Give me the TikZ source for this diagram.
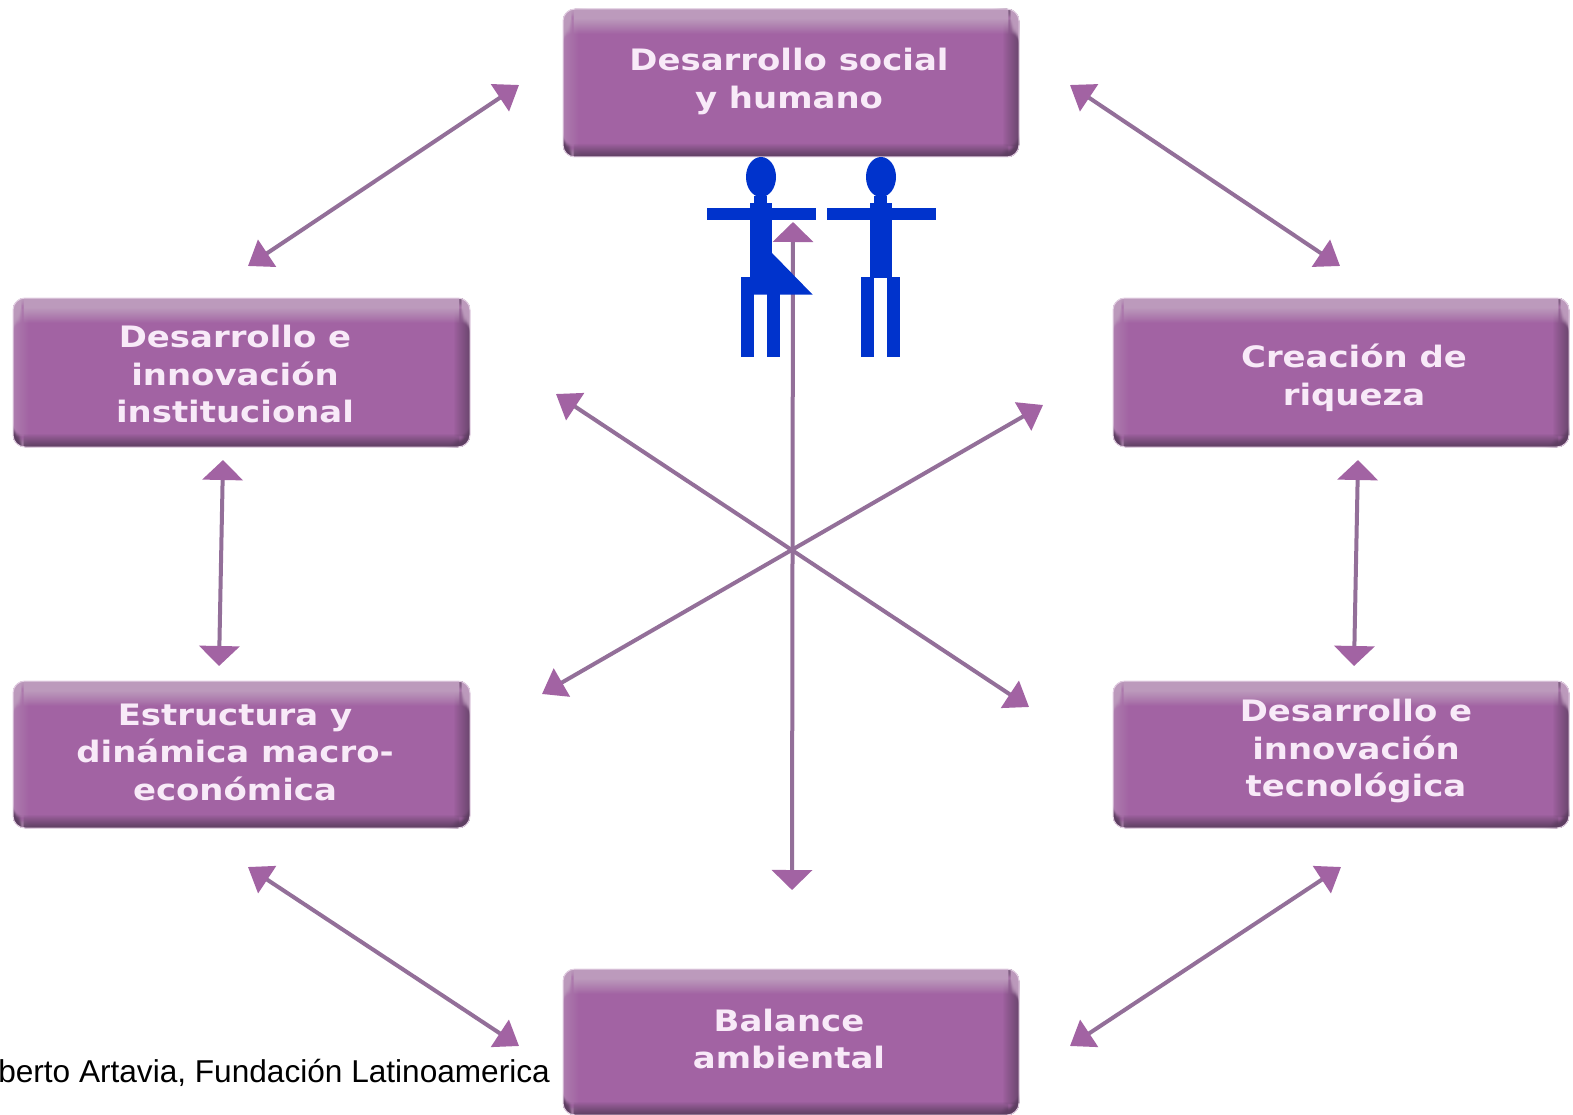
\documentclass[tikz,border=0pt]{standalone}
\usepackage{fontspec}
\setmainfont{Liberation Sans}
\newfontfamily\boxfont[FakeStretch=1.15]{DejaVu Sans Bold}
\usetikzlibrary{arrows.meta,positioning}
\definecolor{boxbase}{HTML}{A263A3}
\definecolor{boxlight}{HTML}{BC9ABC}
\definecolor{boxdark}{HTML}{5E3F62}
\definecolor{boxtext}{HTML}{F8EAF8}
\definecolor{arrowcol}{HTML}{936F99}
\definecolor{tipcol}{HTML}{A263A3}
\definecolor{personblue}{HTML}{0033CC}
\newcommand{\boxstrips}{%
  \foreach \i in {0,...,15} {
    \pgfmathsetmacro{\op}{0.45*(1-\i/16)}
    \fill[boxlight,opacity=\op] ([xshift=\i pt]path picture bounding box.north west) rectangle ([xshift=\i pt+1pt]path picture bounding box.south west);
  }
  \foreach \i in {0,...,15} {
    \pgfmathsetmacro{\op}{0.75*(1-\i/16)}
    \fill[boxdark,opacity=\op] ([xshift=-\i pt]path picture bounding box.north east) rectangle ([xshift=-\i pt-1pt]path picture bounding box.south east);
  }
  \foreach \i in {0,...,24} {
    \pgfmathsetmacro{\op}{min(1,1.6*(1-\i/25))}
    \fill[boxlight,opacity=\op] ([yshift=-\i pt]path picture bounding box.north west) rectangle ([yshift=-\i pt-1pt]path picture bounding box.north east);
  }
  \foreach \i in {0,...,12} {
    \pgfmathsetmacro{\op}{0.95*(1-\i/13)}
    \fill[boxdark,opacity=\op] ([yshift=\i pt]path picture bounding box.south west) rectangle ([yshift=\i pt+1pt]path picture bounding box.south east);
  }
}
\tikzset{
  x=1pt,y=-1pt,
  purplebox/.style={rectangle,rounded corners=12pt,fill=boxbase,draw=boxbase!30,line width=1pt,inner sep=0pt,
    path picture={\boxstrips}},
  boxlabel/.style={text=boxtext,align=center,font=\boxfont\fontsize{29.5}{37.5}\selectfont,inner sep=0pt},
  linkarrow/.style={draw=arrowcol,line width=4pt,{Triangle[length=20pt,width=40pt,fill=tipcol,color=tipcol]}-{Triangle[length=20pt,width=40pt,fill=tipcol,color=tipcol]}},
  slantarrow/.style={draw=arrowcol,line width=4pt,{Triangle[length=23pt,width=32pt,fill=tipcol,color=tipcol]}-{Triangle[length=23pt,width=32pt,fill=tipcol,color=tipcol]}},
  personpart/.style={fill=personblue,draw=none},
}
\begin{document}
\begin{tikzpicture}
\useasboundingbox (0,0) rectangle (1573,1115);
\fill[white] (0,0) rectangle (1573,1115);
% boxes
\node[purplebox,minimum width=456pt,minimum height=148pt] (top) at (791,83) {};
\node[purplebox,minimum width=456pt,minimum height=146pt] (bottom) at (791,1042) {};
\node[purplebox,minimum width=457pt,minimum height=149pt] (lone) at (241.5,372.5) {};
\node[purplebox,minimum width=457pt,minimum height=147pt] (ltwo) at (241.5,754.5) {};
\node[purplebox,minimum width=456pt,minimum height=149pt] (rone) at (1341,372.5) {};
\node[purplebox,minimum width=456pt,minimum height=147pt] (rtwo) at (1341,754.5) {};
% labels
\node[boxlabel] (ttop) at (789,81.5) {Desarrollo social\\y humano};
\node[boxlabel] (tlone) at (235,374) {Desarrollo e\\innovación\\institucional};
\node[boxlabel] (trone) at (1354,378) {Creación de\\riqueza};
\node[boxlabel] (tltwo) at (235,752) {Estructura y\\dinámica macro-\\económica};
\node[boxlabel] (trtwo) at (1356,751) {Desarrollo e\\innovación\\tecnológica};
\node[boxlabel] (tbottom) at (789,1039) {Balance\\ambiental};
% connector ends
\coordinate (tla) at (519,85);  \coordinate (tlb) at (248,266);
\coordinate (tra) at (1070,85); \coordinate (trb) at (1340,266);
\coordinate (lva) at (223,460); \coordinate (lvb) at (219,666);
\coordinate (rva) at (1358,460);\coordinate (rvb) at (1354,666);
\coordinate (bla) at (248,867); \coordinate (blb) at (519,1046);
\coordinate (bra) at (1341,867);\coordinate (brb) at (1070,1046);
\coordinate (cva) at (793,222); \coordinate (cvb) at (792,890);
\coordinate (daa) at (556,394); \coordinate (dab) at (1029,707);
\coordinate (dba) at (1043,405);\coordinate (dbb) at (542,694);
\foreach \a/\b in {lva/lvb,rva/rvb,cva/cvb}
  \draw[linkarrow] (\a) -- (\b);
\foreach \a/\b in {tla/tlb,tra/trb,bla/blb,bra/brb,daa/dab,dba/dbb}
  \draw[slantarrow] (\a) -- (\b);
% woman
\fill[personpart] (761,177) ellipse [x radius=15,y radius=20];
\fill[personpart] (754,196) rectangle (767,204);
\fill[personpart] (750,203) rectangle (772,278);
\fill[personpart] (707,208) rectangle (816,220);
\fill[personpart] (772,253) -- (812.5,294.5) -- (741,294.5) -- (741,277) -- (750,277) -- cycle;
\fill[personpart] (741,277) rectangle (754,357);
\fill[personpart] (767,290) rectangle (780,357);
% man
\fill[personpart] (881,177) ellipse [x radius=15,y radius=20];
\fill[personpart] (874,196) rectangle (887,204);
\fill[personpart] (870,203) rectangle (892,278);
\fill[personpart] (827,208) rectangle (936,220);
\fill[personpart] (861,277) rectangle (874,357);
\fill[personpart] (887,277) rectangle (900,357);
% footer
\node[anchor=base east,inner sep=0pt,text=black,font=\fontsize{31.6}{36}\selectfont] (footer) at (550,1082) {berto Artavia, Fundación Latinoamerica};
\end{tikzpicture}
\end{document}
